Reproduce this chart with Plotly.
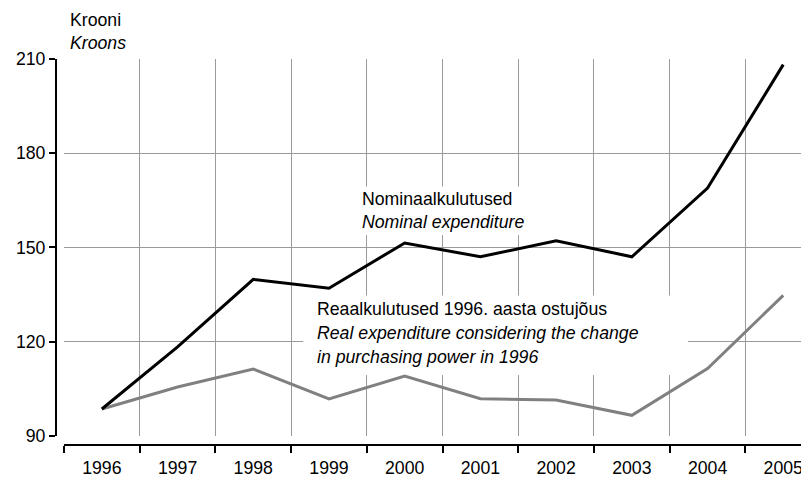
import plotly.graph_objects as go

years = ["1996", "1997", "1998", "1999", "2000", "2001", "2002", "2003", "2004", "2005"]
nominal = [98.5, 118.3, 139.8, 137.0, 151.4, 147.0, 152.1, 147.0, 168.9, 208.2]
real = [98.5, 105.5, 111.2, 101.7, 109.0, 101.8, 101.4, 96.5, 111.4, 134.7]
y_ticks = [90, 120, 150, 180, 210]

FONT = "Liberation Sans, Arial, sans-serif"
FS = 17.7
GRID = "#9a9a9a"

fig = go.Figure()
fig.add_trace(go.Scatter(x=years, y=real, mode="lines",
                         line=dict(color="#808080", width=3), hoverinfo="skip"))
fig.add_trace(go.Scatter(x=years, y=nominal, mode="lines",
                         line=dict(color="black", width=3), hoverinfo="skip"))

# white boxes behind the labels (hide the grid, not the lines)
for x0, x1, y0, y1 in [(3.30, 5.65, 153.9, 169.4), (2.66, 7.74, 109.3, 134.7)]:
    fig.add_shape(type="rect", xref="x", yref="y", x0=x0, x1=x1, y0=y0, y1=y1,
                  fillcolor="white", line_width=0, layer="between")

labels = [
    ("Nominaalkulutused", 3.41, 165.3),
    ("<i>Nominal expenditure</i>", 3.41, 158.0),
    ("Reaalkulutused 1996. aasta ostujõus", 2.81, 130.3),
    ("<i>Real expenditure considering the change</i>", 2.81, 122.7),
    ("<i>in purchasing power in 1996</i>", 2.81, 115.1),
]
for text, x, y in labels:
    fig.add_annotation(x=x, y=y, xref="x", yref="y", text=text, showarrow=False,
                       xanchor="left", yanchor="middle",
                       font=dict(family=FONT, size=FS, color="black"))

# the page body adds an 8px margin, so the figure is 8px smaller
W, H = 801, 471
ml, mt, mb = 48, 50.5, 34
plot_w = W - ml
plot_h = H - mt - mb

# axis title, placed in pixels and converted to paper coordinates
for text, px, py in [("Krooni", 60, 11), ("<i>Kroons</i>", 60, 34)]:
    fig.add_annotation(x=(px - ml) / plot_w, y=1 + (mt - py) / plot_h,
                       xref="paper", yref="paper", text=text, showarrow=False,
                       xanchor="left", yanchor="middle",
                       font=dict(family=FONT, size=FS, color="black"))

fig.update_layout(
    width=W, height=H,
    margin=dict(l=ml, r=0, t=mt, b=mb, autoexpand=False),
    plot_bgcolor="white", paper_bgcolor="white",
    showlegend=False,
    font=dict(family=FONT, size=FS, color="black"),
    xaxis=dict(
        type="category", range=[-0.5, 9.34],
        domain=[8 / plot_w, 1],
        anchor="free", position=0, automargin=False,
        tickson="boundaries", ticks="outside", ticklen=7, tickwidth=2,
        tickcolor="black", showline=True, linecolor="black", linewidth=2,
        showgrid=True, gridcolor=GRID, gridwidth=1,
        ticklabelstandoff=7,
        tickfont=dict(family=FONT, size=FS),
    ),
    yaxis=dict(
        range=[90, 210], tickvals=y_ticks,
        domain=[9.3 / plot_h, 1],
        anchor="free", position=0, automargin=False,
        ticks="outside", ticklen=6, tickwidth=2, tickcolor="black",
        showline=True, linecolor="black", linewidth=2,
        showgrid=True, gridcolor=GRID, gridwidth=1, zeroline=False,
        tickfont=dict(family=FONT, size=FS),
    ),
)

fig.write_html("out.html")
